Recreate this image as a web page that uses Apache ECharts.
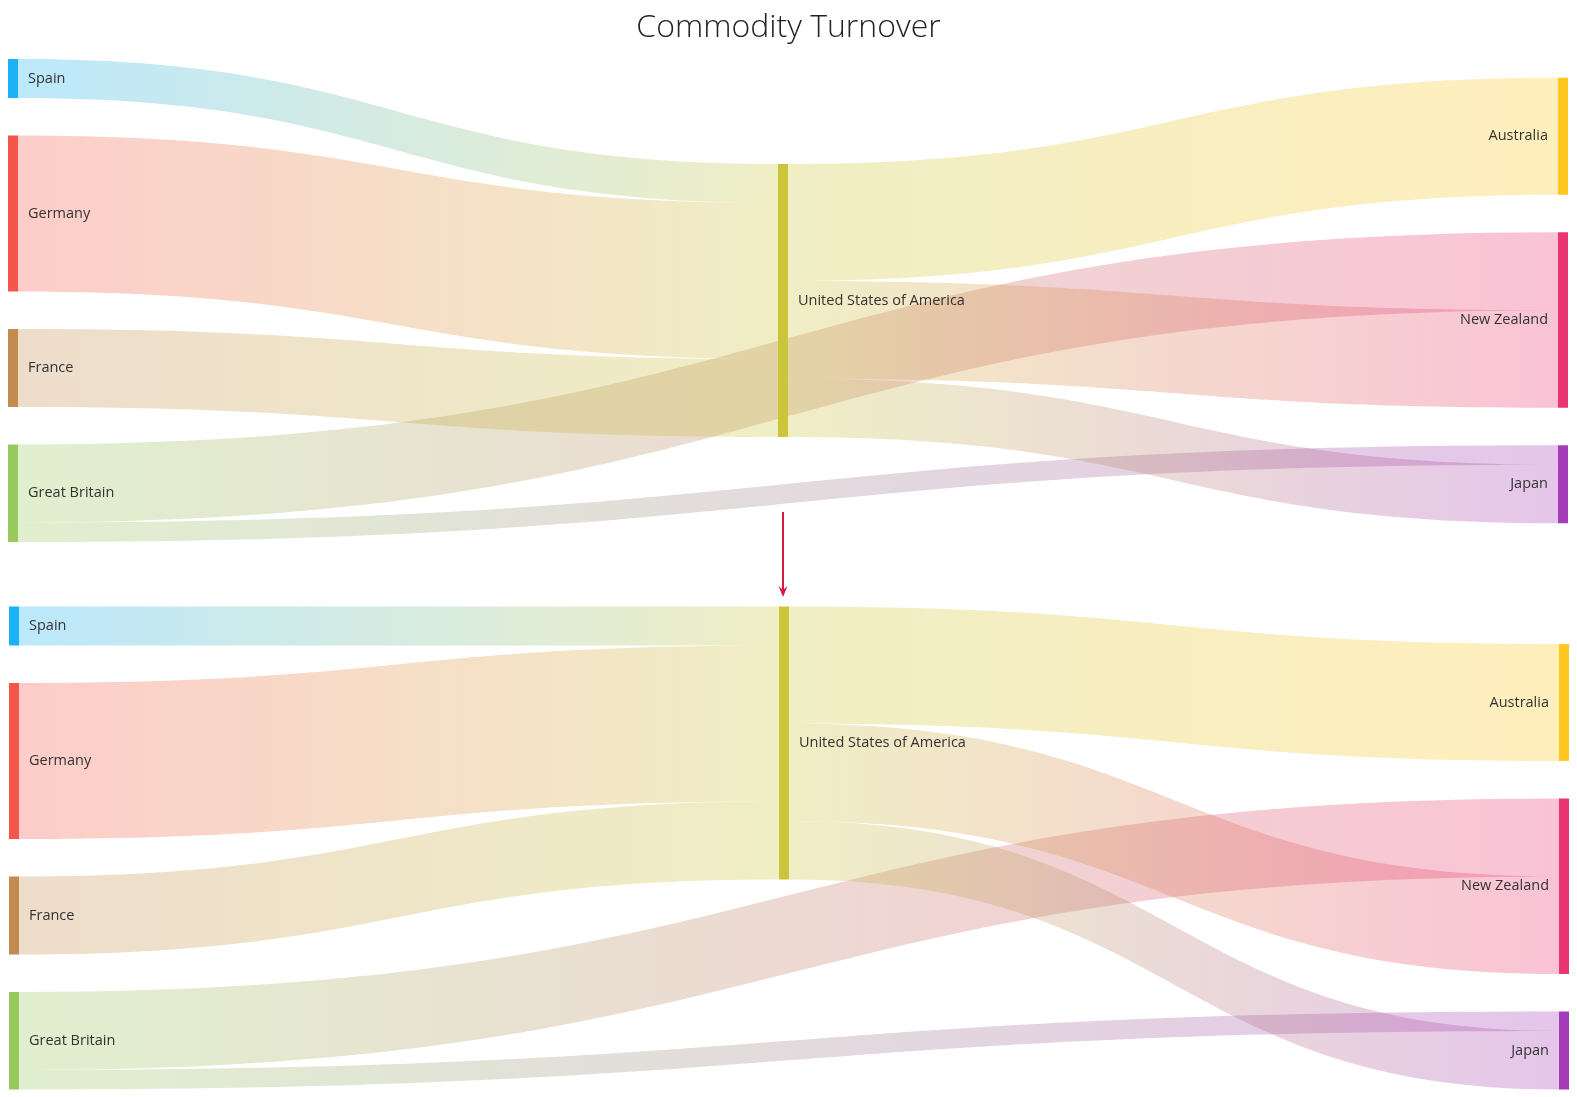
<!DOCTYPE html>
<html>
<head>
<meta charset="utf-8">
<title>Commodity Turnover</title>
<script src="https://cdn.jsdelivr.net/npm/echarts@6/dist/echarts.min.js"></script>
<style>
    html, body { margin: 0; padding: 0; background: #fff; }
    #chart { width: 1577px; height: 1097px; }
</style>
</head>
<body>
<div id="chart"></div>
<script>
// columns, top to bottom as they are shown
const exporters = ['Spain', 'Germany', 'France', 'Great Britain'];
const hubs = ['United States of America'];
const importers = ['Australia', 'New Zealand', 'Japan'];

const nodeColors = ['#1db2f5', '#f5564a', '#c38b4f', '#97c95c', '#cbc53b', '#ffc720', '#eb3573', '#a63db8'];

// links (weight in the same units as the flow widths)
const linkSource = ['Great Britain', 'Great Britain', 'Spain', 'Germany', 'France',
    'United States of America', 'United States of America', 'United States of America'];
const linkTarget = ['New Zealand', 'Japan', 'United States of America', 'United States of America',
    'United States of America', 'Australia', 'New Zealand', 'Japan'];
const linkWeight = [4, 1, 2, 8, 4, 6, 5, 3];

const chartWidth = 1577;
const chartHeight = 483;
const nodeWidth = 10;
const nodeGap = 37.5;

function nodeValue(name) {
    let inSum = 0, outSum = 0;
    linkSource.forEach((s, i) => {
        if (s === name) outSum += linkWeight[i];
        if (linkTarget[i] === name) inSum += linkWeight[i];
    });
    return Math.max(inSum, outSum);
}

// vertical placement of every column (center / start / end), same scale as echarts uses
function placeColumns(aligns) {
    const columns = [exporters, hubs, importers];
    const sums = columns.map(col => col.reduce((a, n) => a + nodeValue(n), 0));
    const ky = Math.min(...columns.map((col, i) => (chartHeight - (col.length - 1) * nodeGap) / sums[i]));
    const pos = {};
    columns.forEach((col, i) => {
        const span = sums[i] * ky + (col.length - 1) * nodeGap;
        let y = aligns[i] === 'center' ? (chartHeight - span) / 2 : (aligns[i] === 'end' ? chartHeight - span : 0);
        col.forEach(name => {
            pos[name] = y / chartHeight;
            y += nodeValue(name) * ky + nodeGap;
        });
    });
    return pos;
}

const allNames = exporters.concat(hubs, importers);

function buildNodes(aligns, width) {
    const pos = placeColumns(aligns);
    // Great Britain goes first so its flows sit above the US flows at the targets
    const order = ['Great Britain', 'Spain', 'Germany', 'France'].concat(hubs, importers);
    return order.map(name => {
        const idx = allNames.indexOf(name);
        const item = {
            name: name,
            localY: pos[name],
            itemStyle: {color: nodeColors[idx]},
            label: {position: importers.indexOf(name) >= 0 ? 'left' : 'right'}
        };
        if (hubs.indexOf(name) >= 0) {
            item.localX = (width - 2 * nodeWidth) / 2 / width;
        }
        return item;
    });
}

const links = linkSource.map((s, i) => ({source: s, target: linkTarget[i], value: linkWeight[i]}));

function sankeySeries(top, left, right, aligns) {
    return {
        type: 'sankey',
        top: top,
        left: left,
        right: right,
        height: chartHeight,
        nodeWidth: nodeWidth,
        nodeGap: nodeGap,
        layoutIterations: 0,
        draggable: false,
        silent: true,
        emphasis: {disabled: true},
        data: buildNodes(aligns, chartWidth - left - right),
        links: links,
        itemStyle: {borderWidth: 0},
        lineStyle: {color: 'gradient', opacity: 0.3, curveness: 0.5},
        label: {
            distance: 10,
            fontFamily: '"Segoe UI", "Open Sans", sans-serif',
            fontSize: 14.5,
            color: '#333'
        }
    };
}

const myChart = echarts.init(document.getElementById('chart'));
const arrowX = 783;
const arrowColor = '#d41b46';

let option = {
    animation: false,
    title: {
        text: 'Commodity Turnover',
        left: 'center',
        top: 7,
        textStyle: {
            fontFamily: '"Segoe UI Light", "Open Sans", sans-serif',
            fontWeight: 300,
            fontSize: 32,
            color: '#232323'
        }
    },
    graphic: [{
        type: 'group',
        silent: true,
        children: [
            {type: 'line', shape: {x1: arrowX, y1: 512, x2: arrowX, y2: 591}, style: {stroke: arrowColor, lineWidth: 2}},
            {type: 'polygon', shape: {points: [[arrowX - 4.5, 586], [arrowX, 590], [arrowX + 4.5, 586], [arrowX, 597]]}, style: {fill: arrowColor}}
        ]
    }],
    series: [
        sankeySeries(59, 8, 9, ['center', 'center', 'center']),
        sankeySeries(606.5, 9, 8, ['start', 'start', 'end'])
    ]
};
if (option && typeof option === "object") {
    myChart.setOption(option, true);
}
</script>
</body>
</html>
